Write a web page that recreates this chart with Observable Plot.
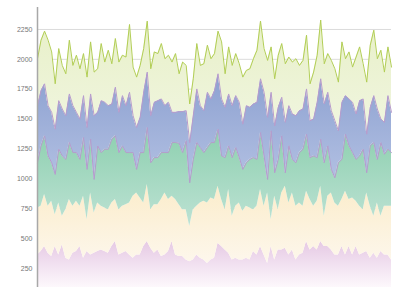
<!DOCTYPE html>
<html>
<head>
<meta charset="utf-8">
<script src="https://cdn.jsdelivr.net/npm/d3@7"></script>
<script src="https://cdn.jsdelivr.net/npm/@observablehq/plot@0.6"></script>
<style>
  html, body { margin: 0; padding: 0; background: #fff; }
  #chart svg { display: block; }
</style>
</head>
<body>
<div id="chart"></div>
<script>
// Tops of each stacked layer (cumulative values)
const lineTop = [2005,2160,2236,2160,2062,1795,2090,1949,1879,2160,1949,2034,1921,2048,1851,2146,1893,1921,2132,1977,2076,1963,2174,1977,2034,2019,
  2292,1935,1851,1949,2090,2320,1921,2062,2048,2132,2005,2034,1977,2048,1879,1977,1949,1626,1837,2132,1949,1963,2118,2005,2048,
  2236,2146,1879,2104,1949,2048,1963,1851,1907,1921,2005,2076,2320,2090,1991,2104,1837,2034,2132,1963,2019,1977,2005,1949,1991,
  2202,1795,1893,2034,2329,1963,2048,1991,1921,1809,2146,2005,2062,1935,2019,2104,1963,1809,2118,2244,2005,2076,1893,2104,1935];
const blueTop = [1612,1738,1795,1612,1556,1415,1654,1584,1528,1710,1612,1556,1500,1696,1429,1710,1528,1556,1654,1640,1612,1626,1767,1556,1696,1612,
  1724,1528,1429,1514,1724,1893,1528,1640,1654,1668,1612,1640,1556,1556,1562,1562,1570,1303,1528,1752,1612,1570,1724,1668,1738,
  1879,1668,1598,1710,1612,1696,1640,1457,1612,1598,1626,1640,1837,1724,1514,1724,1443,1598,1682,1472,1612,1542,1528,1570,1584,
  1752,1486,1500,1640,1837,1626,1724,1570,1486,1401,1640,1696,1668,1640,1542,1654,1668,1373,1598,1696,1584,1500,1472,1696,1556];
const greenTop = [1134,1275,1359,1191,1134,1036,1247,1191,1162,1303,1219,1219,1162,1345,1078,1331,994,1275,1219,1247,1247,1331,1359,1219,1275,1219,
  1219,1219,1078,1219,1219,1429,1134,1177,1177,1219,1219,1219,1303,1303,1297,1219,1317,966,1162,1303,1261,1219,1261,1303,1303,
  1415,1191,1177,1275,1177,1261,1177,1078,1134,1162,1177,1162,1387,1191,994,1401,1050,1162,1359,1050,1275,1162,1134,1219,1247,
  1373,1177,1191,1177,1331,1134,1275,1078,1008,1134,1162,1373,1275,1219,1162,1191,1247,1050,1275,1303,1162,1303,1205,1247,1219];
const creamTop = [755,769,867,769,811,699,797,685,741,825,769,811,769,853,657,881,713,797,769,755,741,797,825,741,769,783,
  797,853,881,839,797,952,741,783,783,825,881,825,853,825,783,741,741,600,741,769,797,811,797,839,825,
  938,825,741,910,685,769,797,727,769,755,741,769,910,769,881,657,853,741,881,938,797,881,769,797,769,
  896,825,769,811,938,685,853,881,797,769,825,896,825,839,811,769,741,881,769,685,797,685,769,769,769];
const pinkTop = [362,390,432,376,348,432,362,446,333,319,376,390,432,333,390,362,376,390,404,390,376,432,474,362,376,390,
  362,333,362,362,432,474,418,376,404,348,362,390,474,362,348,348,319,305,319,362,333,319,291,319,333,
  460,432,404,376,319,333,319,319,333,319,390,362,432,362,291,432,319,404,404,418,362,404,319,362,376,
  474,404,432,404,474,432,432,404,362,362,432,362,432,362,432,362,376,390,333,376,333,390,362,362,319];
const yTicks = [250, 500, 750, 1000, 1250, 1500, 1750, 2000, 2250];

const idx = d3.range(lineTop.length);
const yMin = 89, yMax = 2434;

const gradients = [
  ["gPink", "#e6c9e4", "#fdf8fc"],
  ["gCream", "#fbecca", "#fdf7ec"],
  ["gGreen", "#8ccfae", "#bde2d4"],
  ["gBlue", "#8ca0d0", "#b3c1e3"],
  ["gTop", "#e8f0c8", "#f1f6e2"]
];

function defsMark() {
  const ns = "http://www.w3.org/2000/svg";
  const defs = document.createElementNS(ns, "defs");
  for (const [id, c0, c1] of gradients) {
    const g = document.createElementNS(ns, "linearGradient");
    g.setAttribute("id", id);
    g.setAttribute("x1", "0"); g.setAttribute("y1", "0");
    g.setAttribute("x2", "0"); g.setAttribute("y2", "1");
    const s0 = document.createElementNS(ns, "stop");
    s0.setAttribute("offset", "0"); s0.setAttribute("stop-color", c0);
    const s1 = document.createElementNS(ns, "stop");
    s1.setAttribute("offset", "1"); s1.setAttribute("stop-color", c1);
    g.appendChild(s0); g.appendChild(s1);
    defs.appendChild(g);
  }
  return defs;
}

const chart = Plot.plot({
  width: 400,
  height: 300,
  marginLeft: 37,
  marginRight: 9,
  marginTop: 7,
  marginBottom: 13,
  style: { fontFamily: "'Liberation Sans', Arial, sans-serif", fontSize: "7px", color: "#777", background: "#fff" },
  x: { domain: [0, lineTop.length - 1], axis: null },
  y: { domain: [yMin, yMax], ticks: yTicks, tickSize: 0, tickPadding: 5, label: null, tickFormat: d => String(d) },
  marks: [
    defsMark,
    Plot.ruleY(yTicks, { stroke: "#dcdcdc", strokeWidth: 1 }),
    Plot.areaY(idx, { x: i => i, y1: yMin, y2: i => pinkTop[i], fill: "url(#gPink)" }),
    Plot.areaY(idx, { x: i => i, y1: i => pinkTop[i], y2: i => creamTop[i], fill: "url(#gCream)" }),
    Plot.areaY(idx, { x: i => i, y1: i => creamTop[i], y2: i => greenTop[i], fill: "url(#gGreen)" }),
    Plot.areaY(idx, { x: i => i, y1: i => greenTop[i], y2: i => blueTop[i], fill: "url(#gBlue)" }),
    Plot.areaY(idx, { x: i => i, y1: i => blueTop[i], y2: i => lineTop[i], fill: "url(#gTop)" }),
    Plot.line(idx, { x: i => i, y: i => greenTop[i], stroke: "#b59ccc", strokeWidth: 1 }),
    Plot.line(idx, { x: i => i, y: i => blueTop[i], stroke: "#b89ccc", strokeWidth: 1 }),
    Plot.line(idx, { x: i => i, y: i => lineTop[i], stroke: "#b2ce55", strokeWidth: 1 }),
    Plot.ruleX([0], { stroke: "#a8a8a8", strokeWidth: 1.5 })
  ]
});
document.getElementById("chart").appendChild(chart);
</script>
</body>
</html>
